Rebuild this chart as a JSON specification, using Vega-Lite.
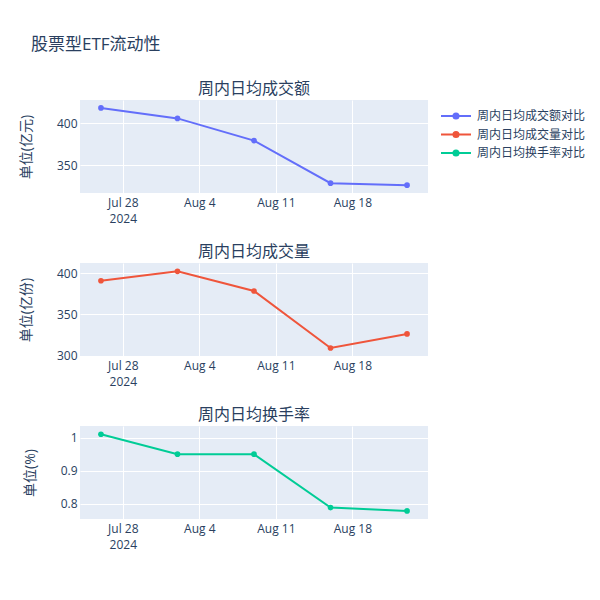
{
  "$schema": "https://vega.github.io/schema/vega-lite/v6.json",
  "background": "white",
  "padding": {"left": 18, "top": 36, "right": 5, "bottom": 5},
  "title": {
    "text": "股票型ETF流动性",
    "anchor": "start",
    "fontSize": 17,
    "fontWeight": "normal",
    "color": "#2a3f5f",
    "offset": 27,
    "dx": 12
  },
  "config": {
    "font": "Open Sans, Noto Sans CJK SC, sans-serif",
    "view": {"fill": "#E5ECF6", "stroke": null},
    "title": {"font": "Open Sans, Noto Sans CJK SC, sans-serif"},
    "axis": {
      "domain": false,
      "ticks": false,
      "gridColor": "white",
      "gridWidth": 1,
      "labelColor": "#2a3f5f",
      "labelFontSize": 12,
      "labelFont": "Open Sans, Noto Sans CJK SC, sans-serif",
      "titleColor": "#2a3f5f",
      "titleFontSize": 14,
      "titleFontWeight": "normal",
      "titleFont": "Open Sans, Noto Sans CJK SC, sans-serif"
    }
  },
  "data": {
    "values": [
      {"date": "2024-07-26", "series": "周内日均成交额对比", "value": 418.0},
      {"date": "2024-08-02", "series": "周内日均成交额对比", "value": 405.5},
      {"date": "2024-08-09", "series": "周内日均成交额对比", "value": 379.1},
      {"date": "2024-08-16", "series": "周内日均成交额对比", "value": 328.4},
      {"date": "2024-08-23", "series": "周内日均成交额对比", "value": 326.0},
      {"date": "2024-07-26", "series": "周内日均成交量对比", "value": 390.6},
      {"date": "2024-08-02", "series": "周内日均成交量对比", "value": 402.0},
      {"date": "2024-08-09", "series": "周内日均成交量对比", "value": 378.2},
      {"date": "2024-08-16", "series": "周内日均成交量对比", "value": 309.3},
      {"date": "2024-08-23", "series": "周内日均成交量对比", "value": 326.3},
      {"date": "2024-07-26", "series": "周内日均换手率对比", "value": 1.01},
      {"date": "2024-08-02", "series": "周内日均换手率对比", "value": 0.95},
      {"date": "2024-08-09", "series": "周内日均换手率对比", "value": 0.95},
      {"date": "2024-08-16", "series": "周内日均换手率对比", "value": 0.789},
      {"date": "2024-08-23", "series": "周内日均换手率对比", "value": 0.779}
    ]
  },
  "bounds": "flush",
  "spacing": 70,
  "vconcat": [
    {
      "title": {"text": "周内日均成交额", "fontSize": 16, "fontWeight": "normal", "color": "#2a3f5f", "offset": 3},
      "width": 348,
      "height": 93,
      "transform": [{"filter": "datum.series === '周内日均成交额对比'"}],
      "encoding": {
        "x": {
          "field": "date",
          "type": "temporal",
          "title": null,
          "scale": {
            "type": "utc",
            "domain": [
              {"year": 2024, "month": 7, "date": 24, "hours": 2, "utc": true},
              {"year": 2024, "month": 8, "date": 24, "hours": 22, "utc": true}
            ]
          },
          "axis": {
            "values": [
              {"year": 2024, "month": 7, "date": 28, "utc": true},
              {"year": 2024, "month": 8, "date": 4, "utc": true},
              {"year": 2024, "month": 8, "date": 11, "utc": true},
              {"year": 2024, "month": 8, "date": 18, "utc": true}
            ],
            "labelExpr": "utcFormat(datum.value, '%m-%d') === '07-28' ? [utcFormat(datum.value, '%b %-d'), '2024'] : utcFormat(datum.value, '%b %-d')",
            "labelLineHeight": 16,
            "labelPadding": 4
          }
        },
        "y": {
          "field": "value",
          "type": "quantitative",
          "title": "单位(亿元)",
          "scale": {"domain": [316.7, 427.4], "zero": false, "nice": false},
          "axis": {"values": [350, 400], "labelPadding": 3, "titleX": -54, "titleY": 46.5, "titleAngle": -90, "titleAlign": "center", "titleBaseline": "middle"}
        },
        "color": {"field": "series", "type": "nominal"}
      },
      "layer": [
        {"mark": {"type": "line", "strokeWidth": 2}},
        {"mark": {"type": "point", "filled": true, "size": 32, "opacity": 1}}
      ]
    },
    {
      "title": {"text": "周内日均成交量", "fontSize": 16, "fontWeight": "normal", "color": "#2a3f5f", "offset": 3},
      "width": 348,
      "height": 93,
      "transform": [{"filter": "datum.series === '周内日均成交量对比'"}],
      "encoding": {
        "x": {
          "field": "date",
          "type": "temporal",
          "title": null,
          "scale": {
            "type": "utc",
            "domain": [
              {"year": 2024, "month": 7, "date": 24, "hours": 2, "utc": true},
              {"year": 2024, "month": 8, "date": 24, "hours": 22, "utc": true}
            ]
          },
          "axis": {
            "values": [
              {"year": 2024, "month": 7, "date": 28, "utc": true},
              {"year": 2024, "month": 8, "date": 4, "utc": true},
              {"year": 2024, "month": 8, "date": 11, "utc": true},
              {"year": 2024, "month": 8, "date": 18, "utc": true}
            ],
            "labelExpr": "utcFormat(datum.value, '%m-%d') === '07-28' ? [utcFormat(datum.value, '%b %-d'), '2024'] : utcFormat(datum.value, '%b %-d')",
            "labelLineHeight": 16,
            "labelPadding": 4
          }
        },
        "y": {
          "field": "value",
          "type": "quantitative",
          "title": "单位(亿份)",
          "scale": {"domain": [299.6, 412.1], "zero": false, "nice": false},
          "axis": {"values": [300, 350, 400], "labelPadding": 3, "titleX": -54, "titleY": 46.5, "titleAngle": -90, "titleAlign": "center", "titleBaseline": "middle"}
        },
        "color": {"field": "series", "type": "nominal"}
      },
      "layer": [
        {"mark": {"type": "line", "strokeWidth": 2}},
        {"mark": {"type": "point", "filled": true, "size": 32, "opacity": 1}}
      ]
    },
    {
      "title": {"text": "周内日均换手率", "fontSize": 16, "fontWeight": "normal", "color": "#2a3f5f", "offset": 3},
      "width": 348,
      "height": 93,
      "transform": [{"filter": "datum.series === '周内日均换手率对比'"}],
      "encoding": {
        "x": {
          "field": "date",
          "type": "temporal",
          "title": null,
          "scale": {
            "type": "utc",
            "domain": [
              {"year": 2024, "month": 7, "date": 24, "hours": 2, "utc": true},
              {"year": 2024, "month": 8, "date": 24, "hours": 22, "utc": true}
            ]
          },
          "axis": {
            "values": [
              {"year": 2024, "month": 7, "date": 28, "utc": true},
              {"year": 2024, "month": 8, "date": 4, "utc": true},
              {"year": 2024, "month": 8, "date": 11, "utc": true},
              {"year": 2024, "month": 8, "date": 18, "utc": true}
            ],
            "labelExpr": "utcFormat(datum.value, '%m-%d') === '07-28' ? [utcFormat(datum.value, '%b %-d'), '2024'] : utcFormat(datum.value, '%b %-d')",
            "labelLineHeight": 16,
            "labelPadding": 4
          }
        },
        "y": {
          "field": "value",
          "type": "quantitative",
          "title": "单位(%)",
          "scale": {"domain": [0.7545, 1.035], "zero": false, "nice": false},
          "axis": {"values": [0.8, 0.9, 1], "format": "~g", "labelPadding": 3, "titleX": -50, "titleY": 46.5, "titleAngle": -90, "titleAlign": "center", "titleBaseline": "middle"}
        },
        "color": {
          "field": "series",
          "type": "nominal",
          "scale": {
            "domain": ["周内日均成交额对比", "周内日均成交量对比", "周内日均换手率对比"],
            "range": ["#636efa", "#EF553B", "#00cc96"]
          },
          "legend": {
            "title": null,
            "orient": "none",
            "legendX": 366.5,
            "legendY": 6.5,
            "symbolType": "M-1.765,0L1.765,0M0.3,0A0.3,0.3,0,1,1,-0.3,0A0.3,0.3,0,1,1,0.3,0Z",
            "symbolSize": 289,
            "symbolStrokeWidth": 2,
            "symbolOpacity": 1,
            "labelFontSize": 12,
            "labelColor": "#2a3f5f",
            "labelOffset": 11.5,
            "rowPadding": 1.5,
            "encode": {
              "symbols": {
                "update": {
                  "fill": {"scale": "color", "field": "value"},
                  "stroke": {"scale": "color", "field": "value"}
                }
              }
            }
          }
        }
      },
      "layer": [
        {"mark": {"type": "line", "strokeWidth": 2}},
        {"mark": {"type": "point", "filled": true, "size": 32, "opacity": 1}}
      ]
    }
  ]
}
